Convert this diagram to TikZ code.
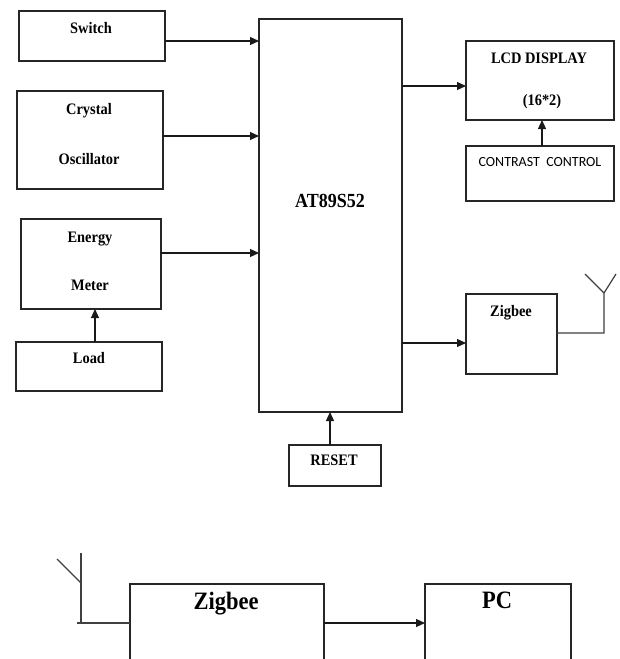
\documentclass[tikz,border=0pt]{standalone}
\usepackage{fontspec}
\setmainfont{Liberation Serif}[FakeStretch=0.9]
\newfontfamily\calfont{Carlito}
\usetikzlibrary{arrows.meta}
\newcommand\mkbox[5]{\node[box, minimum width={#4-#2}, minimum height={#5-#3}] (#1) at (#2,#3) {};}
\begin{document}
\begin{tikzpicture}[x=1pt,y=-1pt,
 box/.style={draw=black!85, line width=1.3pt, inner sep=0pt, outer sep=0pt, anchor=north west},
 lbl/.style={font=\bfseries\fontsize{16}{18}\selectfont, inner sep=0pt, text height=0.66em, text depth=0pt},
 biglbl/.style={lbl, font=\bfseries\fontsize{25}{28}\selectfont},
 arr/.style={draw=black!90, line width=1.2pt, -{Triangle[length=9pt,width=8pt]}},
 wire/.style={draw=black!75, line width=1.2pt}]
\clip (0,0) rectangle (619,659);
\fill[white] (0,0) rectangle (619,659);
% boxes
\mkbox{sw}{19}{11}{165}{61}
\mkbox{xo}{17}{91}{163}{189}
\mkbox{em}{21}{219}{161}{309}
\mkbox{ld}{16}{342}{162}{391}
\mkbox{at}{259}{19}{402}{412}
\mkbox{lcd}{466}{41}{614}{120}
\mkbox{cc}{466}{146}{614}{201}
\mkbox{zb}{466}{294}{557}{374}
\mkbox{rs}{289}{445}{381}{486}
\mkbox{zb2}{130}{584}{324}{720}
\mkbox{pc}{425}{584}{571}{720}
% labels
\node[lbl] (tsw) at (91,30) {Switch};
\node[lbl] (txo1) at (89,111) {Crystal};
\node[lbl] (txo2) at (89,161) {Oscillator};
\node[lbl] (tem1) at (90,239) {Energy};
\node[lbl] (tem2) at (90,287) {Meter};
\node[lbl] (tld) at (89,360) {Load};
\node[lbl, font=\bfseries\fontsize{20}{22}\selectfont] (tat) at (330,204) {AT89S52};
\node[lbl] (tlcd1) at (539,60) {LCD DISPLAY};
\node[lbl] (tlcd2) at (542,102) {(16*2)};
\node[lbl, font=\calfont\fontsize{14}{16}\selectfont] (tcc) at (540,163) {CONTRAST\ \ CONTROL};
\node[lbl] (tzb) at (511,313) {Zigbee};
\node[lbl] (trs) at (334,462) {RESET};
\node[biglbl] (tzb2) at (226,606) {Zigbee};
\node[biglbl] (tpc) at (497,605) {PC};
% helper coordinates
\coordinate (y1) at (0,41);
\coordinate (y2) at (0,136);
\coordinate (y3) at (0,253);
\coordinate (y4) at (0,86);
\coordinate (y5) at (0,343);
\coordinate (y6) at (0,623);
\coordinate (x1) at (95,0);
\coordinate (x2) at (542,0);
\coordinate (x3) at (330,0);
% arrows
\draw[arr] (sw.east |- y1) -- (at.west |- y1);
\draw[arr] (xo.east |- y2) -- (at.west |- y2);
\draw[arr] (em.east |- y3) -- (at.west |- y3);
\draw[arr] (ld.north -| x1) -- (em.south -| x1);
\draw[arr] (at.east |- y4) -- (lcd.west |- y4);
\draw[arr] (cc.north -| x2) -- (lcd.south -| x2);
\draw[arr] (at.east |- y5) -- (zb.west |- y5);
\draw[arr] (rs.north -| x3) -- (at.south -| x3);
\draw[arr] (zb2.east |- y6) -- (pc.west |- y6);
% antenna (top)
\coordinate (ya) at (0,333);
\coordinate (av) at (604,293);
\coordinate (al) at (585,274);
\coordinate (ar) at (616,274);
\draw[wire] (zb.east |- ya) -| (av) -- (al) (av) -- (ar);
% antenna (bottom)
\coordinate (bf) at (77,623);
\coordinate (bc) at (81,623);
\coordinate (bt) at (81,553);
\coordinate (bv) at (81,583);
\coordinate (bd) at (57,559);
\draw[wire] (zb2.west |- y6) -- (bf);
\draw[wire] (bc) -- (bt);
\draw[wire] (bv) -- (bd);
\end{tikzpicture}
\end{document}
